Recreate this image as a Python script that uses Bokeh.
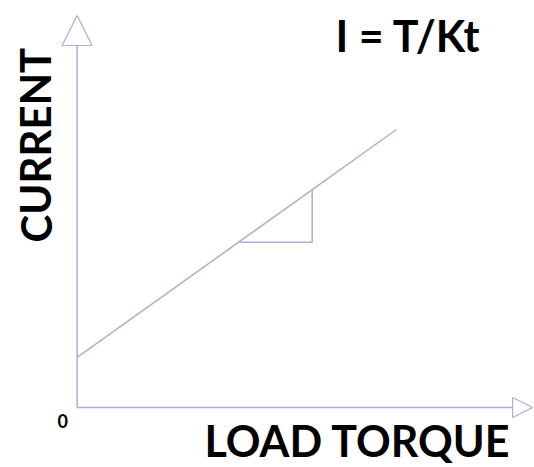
from bokeh.plotting import figure
from bokeh.models import Range1d, Label, Arrow, NormalHead
from bokeh.embed import file_html
from bokeh.resources import INLINE

# Data (arbitrary units)
torque = [0.0, 10.0]
current = [1.8, 10.0]
# slope triangle corners
tri_torque = [5.05, 7.36, 7.36]
tri_current = [5.94, 5.94, 7.84]

title_text = "I = T/Kt"
x_label = "LOAD TORQUE"
y_label = "CURRENT"
origin_label = "0"

LINE = "#adadda"

W, H = 534, 467
p = figure(width=W, height=H, output_backend="svg", toolbar_location=None,
           x_range=Range1d(-2.398, 14.32), y_range=Range1d(-2.158, 14.64),
           min_border=0, outline_line_color=None)
p.axis.visible = False
p.grid.visible = False
p.background_fill_color = "white"
p.border_fill_color = "white"

# axes with arrowheads
p.add_layout(Arrow(end=NormalHead(size=30, fill_color="white", line_color=LINE, line_width=1.2),
                   x_start=0, y_start=0, x_end=0, y_end=14.1,
                   line_color=LINE, line_width=1.5))
p.add_layout(Arrow(end=NormalHead(size=20, fill_color="white", line_color=LINE, line_width=1.2),
                   x_start=0, y_start=0, x_end=14.26, y_end=0,
                   line_color=LINE, line_width=1.5))

p.line(torque, current, line_color=LINE, line_width=1.5)
p.line(tri_torque, tri_current, line_color=LINE, line_width=1.5)

font = "Lato"
p.add_layout(Label(x=335, y=H - 35, x_units="screen", y_units="screen", text=title_text,
                   text_font=font, text_font_style="bold", text_font_size="43px",
                   text_color="black", text_baseline="middle"))
p.add_layout(Label(x=204, y=H - 440, x_units="screen", y_units="screen", text=x_label,
                   text_font=font, text_font_style="bold", text_font_size="43px",
                   text_color="black", text_baseline="middle"))
p.add_layout(Label(x=35, y=H - 242, x_units="screen", y_units="screen", text=y_label,
                   text_font=font, text_font_style="bold", text_font_size="42px",
                   text_color="black", text_baseline="middle", angle=1.5708))
p.add_layout(Label(x=57, y=H - 420, x_units="screen", y_units="screen", text=origin_label,
                   text_font=font, text_font_style="bold", text_font_size="18px",
                   text_color="black", text_baseline="middle"))

open("out.html", "w").write(file_html(p, INLINE))
